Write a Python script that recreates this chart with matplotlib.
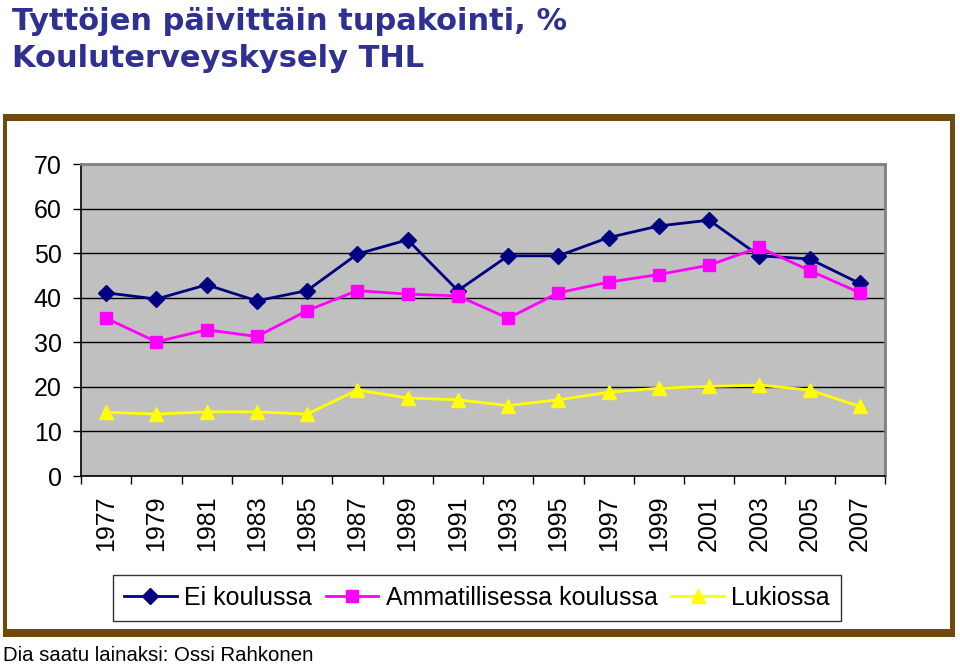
import numpy as np
import matplotlib
matplotlib.use("Agg")
import matplotlib.pyplot as plt
from matplotlib.patches import Rectangle

# data (%)
years = ["1977", "1979", "1981", "1983", "1985", "1987", "1989", "1991",
         "1993", "1995", "1997", "1999", "2001", "2003", "2005", "2007"]
ei_koulussa = [41.1, 39.7, 42.9, 39.3, 41.6, 49.8, 53.0, 41.6,
               49.4, 49.4, 53.5, 56.1, 57.4, 49.4, 48.7, 43.2]
ammatillinen = [35.4, 30.1, 32.8, 31.3, 37.1, 41.6, 40.8, 40.4,
                35.4, 41.1, 43.5, 45.2, 47.3, 51.3, 46.1, 41.1]
lukio = [14.3, 13.9, 14.4, 14.4, 13.9, 19.3, 17.5, 17.1,
         15.8, 17.1, 18.8, 19.7, 20.1, 20.4, 19.3, 15.6]

W, H = 960, 666
fig = plt.figure(figsize=(W / 100, H / 100), dpi=100)
fig.patch.set_facecolor("white")

# background layer for the slide frame, in pixel units
bg = fig.add_axes([0, 0, 1, 1])
bg.set_xlim(0, W)
bg.set_ylim(H, 0)
bg.axis("off")
brown = "#6f4a0c"
bg.add_patch(Rectangle((3, 114), 952, 7, color=brown, lw=0))
bg.add_patch(Rectangle((3, 114), 4, 523, color=brown, lw=0))
bg.add_patch(Rectangle((950, 114), 5, 523, color=brown, lw=0))
bg.add_patch(Rectangle((3, 629), 952, 8, color=brown, lw=0))

# title, two lines
title_kw = dict(ha="left", va="baseline", fontsize=22, fontweight="bold",
                color="#2e3192", family="DejaVu Sans")
fig.text(12 / W, 1 - 30 / H, "Tyttöjen päivittäin tupakointi, %", **title_kw)
fig.text(12 / W, 1 - 67 / H, "Kouluterveyskysely THL", **title_kw)

# caption
fig.text(3 / W, 1 - 665 / H, "Dia saatu lainaksi: Ossi Rahkonen",
         ha="left", va="bottom", fontsize=14.7, family="Liberation Sans",
         color="black")

# chart axes
ax = fig.add_axes([81 / W, 190 / H, 804 / W, 312 / H])
ax.set_facecolor("#c0c0c0")
x = np.arange(len(years))

ax.plot(x, ei_koulussa, color="#000080", lw=2, marker="D", ms=8.5,
        label="Ei koulussa", zorder=3)
ax.plot(x, ammatillinen, color="#ff00ff", lw=2, marker="s", ms=8.5,
        label="Ammatillisessa koulussa", zorder=3)
ax.plot(x, lukio, color="#ffff00", lw=2, marker="^", ms=10,
        label="Lukiossa", zorder=3)

ax.set_xlim(-0.5, len(years) - 0.5)
ax.set_ylim(0, 70)
ax.set_yticks(np.arange(0, 71, 10))
ax.yaxis.grid(True, color="black", lw=1)
ax.set_axisbelow(True)

ax.set_xticks(x)
ax.set_xticklabels(years, rotation=90)
ax.set_xticks(np.arange(-0.5, len(years), 1), minor=True)
ax.tick_params(axis="x", which="major", length=0, pad=14, labelsize=18)
ax.tick_params(axis="x", which="minor", length=6, width=1, color="black")
ax.tick_params(axis="y", length=6, width=1, pad=8, labelsize=18)
for lab in ax.get_xticklabels() + ax.get_yticklabels():
    lab.set_family("Liberation Sans")

for side in ["top", "right"]:
    ax.spines[side].set_color("#808080")
    ax.spines[side].set_linewidth(2)
for side in ["left", "bottom"]:
    ax.spines[side].set_color("black")
    ax.spines[side].set_linewidth(1.2)

leg = fig.legend(loc="center", bbox_to_anchor=(477 / W, 1 - 598 / H), ncol=3,
                 frameon=True, fancybox=False, edgecolor="black",
                 prop={"family": "Liberation Sans", "size": 18},
                 handlelength=2.1, handletextpad=0.3, columnspacing=0.55,
                 borderpad=0.45)
leg.get_frame().set_linewidth(1)

fig.savefig("out.png", dpi=100)
